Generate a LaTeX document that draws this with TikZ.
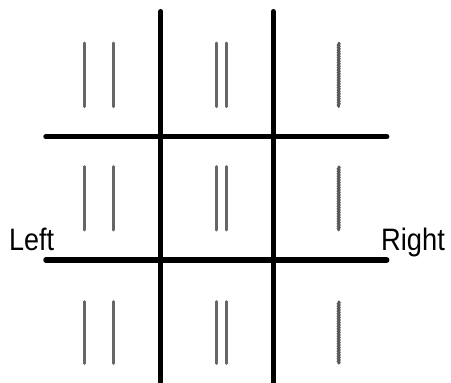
\documentclass[tikz,border=0pt]{standalone}
\usepackage{fontspec}
\setmainfont{Liberation Sans}
\usetikzlibrary{decorations.pathmorphing}
\begin{document}
\begin{tikzpicture}[x=1pt,y=-1pt,
  thick line/.style={line width=5.5pt,line cap=round,black},
  bar/.style={line width=3pt,line cap=round,black!60},
  wavybar/.style={line width=2.6pt,line cap=round,black!65,decorate,decoration={snake,amplitude=0.5pt,segment length=2.5pt}},
  lbl/.style={inner sep=0pt,anchor=base west,font=\fontsize{31}{33}\selectfont}]
\useasboundingbox (0,0) rectangle (451,383);
% grid
\draw[thick line] (160.7,11.7) -- (160.7,390);
\draw[thick line] (273.3,11.7) -- (273.3,390);
\draw[thick line] (46,136.7) -- (386.7,136.7);
\draw[thick line] (46,260) -- (386.7,260);
% bars
\foreach \ya/\yb in {43/106.7,166.7/230,301.7/363.3}{
  \draw[bar] (84.3,\ya) -- (84.3,\yb);
  \draw[bar] (113.3,\ya) -- (113.3,\yb);
  \draw[bar] (216,\ya) -- (216,\yb);
  \draw[bar] (226,\ya) -- (226,\yb);
  \draw[wavybar] (338.7,\ya) -- (338.7,\yb);
}
\node[lbl] (left) at (9,250) {\scalebox{0.87}[1]{Left}};
\node[lbl] (right) at (381,250) {\scalebox{0.88}[1]{Right}};
\end{tikzpicture}
\end{document}
